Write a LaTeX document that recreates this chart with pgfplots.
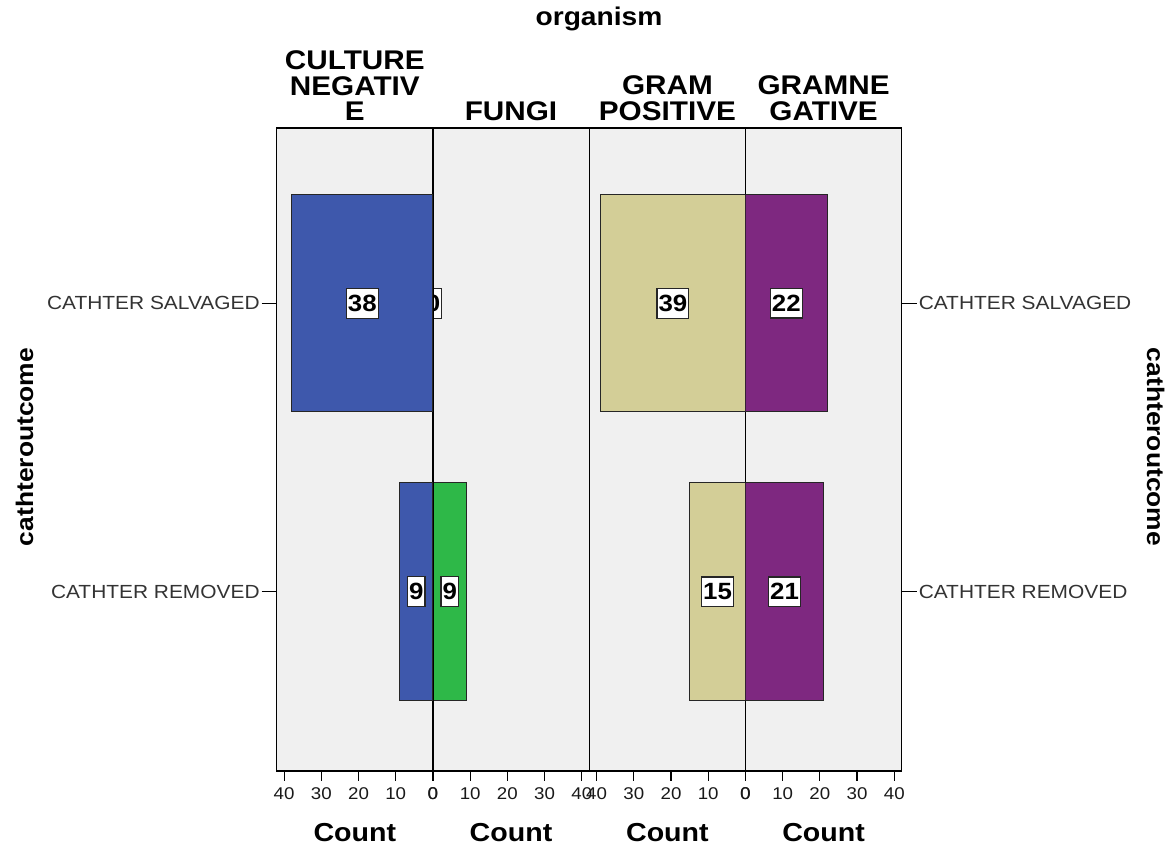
\documentclass[border=0pt]{standalone}
\usepackage{fontspec}
\setmainfont{Liberation Sans}[FakeStretch=1.1]
\usepackage{pgfplots}
\usepackage{pgfplotstable}
\pgfplotsset{compat=1.18}

\definecolor{cneg}{HTML}{3E58AC}
\definecolor{fungi}{HTML}{2EB848}
\definecolor{gpos}{HTML}{D3CE97}
\definecolor{gneg}{HTML}{7E2880}
\definecolor{bgc}{HTML}{F0F0F0}

% row: 1 = CATHTER SALVAGED, 0 = CATHTER REMOVED
\pgfplotstableread{
row n
1 38
0 9
}\tblcneg
\pgfplotstableread{
row n
1 0
0 9
}\tblfungi
\pgfplotstableread{
row n
1 39
0 15
}\tblgpos
\pgfplotstableread{
row n
1 22
0 21
}\tblgneg

\pgfplotsset{
  panel/.style={
    scale only axis, width=78.125pt, height=321.5pt,
    anchor=south west,
    xmin=0, xmax=42, ymin=-0.623, ymax=1.609,
    xtick={0,10,20,30,40},
    ytick=\empty,
    xtick pos=left,
    tick align=outside,
    major tick length=5pt,
    axis background/.style={fill=bgc},
    axis line style={line width=0.6pt, black},
    every tick/.style={black, line width=0.6pt},
    xticklabel style={font=\fontsize{8.5}{9}\selectfont, text=black!90},
    yticklabel style={font=\fontsize{9.5}{10}\selectfont, text=black!80},
    /pgf/number format/assume math mode=true,
  },
  bars/.style={xbar, bar width=0.7535, draw=black!85, line width=0.5pt},
  vals/.style={draw=none, mark=none, nodes near coords, point meta=explicit,
    nodes near coords style={anchor=center, fill=white, draw=black!85,
      line width=0.6pt, text=black,
      font=\fontsize{11.75}{12}\selectfont\bfseries,
      inner xsep=0.8pt, inner ysep=3.2pt}},
}

\begin{document}
\begin{tikzpicture}
\useasboundingbox (0,0) rectangle (587.5pt,423.5pt);

% FUNGI
\begin{axis}[panel, at={(216.475pt,38pt)}]
  \addplot[bars, fill=fungi] table[x=n, y=row] {\tblfungi};
  \addplot[vals] table[x expr=\thisrow{n}/2, y=row, meta=n] {\tblfungi};
\end{axis}

% CULTURE NEGATIVE
\begin{axis}[panel, at={(138.35pt,38pt)}, x dir=reverse,
  ytick={0,1}, yticklabels={CATHTER REMOVED,CATHTER SALVAGED},
  ytick pos=left, ytick style={/pgfplots/major tick length=7.5pt}]
  \addplot[bars, fill=cneg] table[x=n, y=row] {\tblcneg};
  \addplot[vals] table[x expr=\thisrow{n}/2, y=row, meta=n] {\tblcneg};
\end{axis}

% GRAM POSITIVE
\begin{axis}[panel, at={(294.6pt,38pt)}, x dir=reverse]
  \addplot[bars, fill=gpos] table[x=n, y=row] {\tblgpos};
  \addplot[vals] table[x expr=\thisrow{n}/2, y=row, meta=n] {\tblgpos};
\end{axis}

% GRAMNEGATIVE
\begin{axis}[panel, at={(372.725pt,38pt)},
  ytick={0,1}, yticklabels={CATHTER REMOVED,CATHTER SALVAGED},
  ytick pos=right, yticklabel pos=right,
  ytick style={/pgfplots/major tick length=7.5pt}]
  \addplot[bars, fill=gneg] table[x=n, y=row] {\tblgneg};
  \addplot[vals] table[x expr=\thisrow{n}/2, y=row, meta=n] {\tblgneg};
\end{axis}

% titles and axis names
\node[anchor=base, inner sep=0pt, font=\fontsize{12.8}{13}\selectfont\bfseries]
  at (299.5pt,410.5pt) {organism};
\begin{scope}[every node/.style={anchor=south, inner sep=0pt, align=center,
    font=\fontsize{13.5}{12.75}\selectfont\bfseries}]
  \node at (177.4pt,363pt) {CULTURE\\NEGATIV\\E};
  \node at (255.5pt,363pt) {FUNGI};
  \node at (333.7pt,363pt) {GRAM\\POSITIVE};
  \node at (411.8pt,363pt) {GRAMNE\\GATIVE};
\end{scope}
\begin{scope}[every node/.style={anchor=base, inner sep=0pt,
    font=\fontsize{13}{14}\selectfont\bfseries}]
  \node at (177.4pt,2.5pt) {Count};
  \node at (255.5pt,2.5pt) {Count};
  \node at (333.7pt,2.5pt) {Count};
  \node at (411.8pt,2.5pt) {Count};
\end{scope}
\node[anchor=base, inner sep=0pt, rotate=90, font=\fontsize{12}{13}\selectfont\bfseries]
  at (16.5pt,200pt) {cathteroutcome};
\node[anchor=base, inner sep=0pt, rotate=-90, font=\fontsize{12}{13}\selectfont\bfseries]
  at (573.5pt,200pt) {cathteroutcome};
\end{tikzpicture}
\end{document}
